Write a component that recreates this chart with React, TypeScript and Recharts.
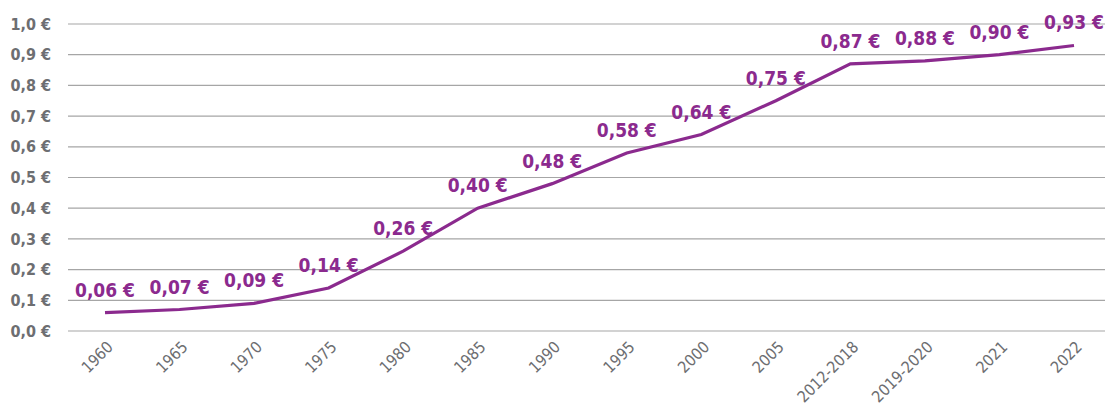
import React from 'react';
import { LineChart, Line, XAxis, YAxis, CartesianGrid, LabelList } from 'recharts';

const years = ['1960', '1965', '1970', '1975', '1980', '1985', '1990', '1995', '2000', '2005', '2012-2018', '2019-2020', '2021', '2022'];
const prices = [0.06, 0.07, 0.09, 0.14, 0.26, 0.40, 0.48, 0.58, 0.64, 0.75, 0.87, 0.88, 0.90, 0.93];
const yTicks = [0, 0.1, 0.2, 0.3, 0.4, 0.5, 0.6, 0.7, 0.8, 0.9, 1.0];

const data = years.map((year, i) => ({ year, price: prices[i] }));

const FONT = '"DejaVu Sans Condensed", "Liberation Sans Narrow", sans-serif';
const PURPLE = '#8b2a8e';
const GREY = '#6d6e71';

const euro = (v: number, digits: number) => `${v.toFixed(digits).replace('.', ',')} €`;

const XTick = (props: any) => {
  const { x, y, payload } = props;
  return (
    <g transform={`translate(${x + 2},${y + 2})`}>
      <text transform="rotate(-45)" textAnchor="end" dy={10} fill={GREY} fontSize={16} fontFamily={FONT}>
        {payload.value}
      </text>
    </g>
  );
};

const App: React.FC = () => {
  return (
    <div style={{ position: 'absolute', left: 0, top: 0, width: 1105, height: 412, overflow: 'hidden', background: '#fff' }}>
      <LineChart width={1120} height={412} data={data} margin={{ top: 24, right: 9, left: 0, bottom: 0 }}>
        <CartesianGrid vertical={false} stroke="#a6a6a6" strokeWidth={1.2} />
        <XAxis
          dataKey="year"
          axisLine={false}
          tickLine={false}
          interval={0}
          height={81}
          padding={{ left: 37, right: 37 }}
          tick={<XTick />}
        />
        <YAxis
          domain={[0, 1]}
          ticks={yTicks}
          width={68}
          axisLine={false}
          tickLine={false}
          tickMargin={11}
          tickFormatter={(v: number) => euro(v, 1)}
          tick={{ fill: GREY, fontSize: 16, fontFamily: FONT, fontWeight: 700 }}
        />
        <Line type="linear" dataKey="price" stroke={PURPLE} strokeWidth={3.2} dot={false} isAnimationActive={false}>
          <LabelList
            dataKey="price"
            position="top"
            offset={16}
            formatter={(v: any) => euro(Number(v), 2)}
            style={{ fill: PURPLE, fontSize: 19, fontWeight: 700, fontFamily: FONT }}
          />
        </Line>
      </LineChart>
    </div>
  );
};

export default App;
